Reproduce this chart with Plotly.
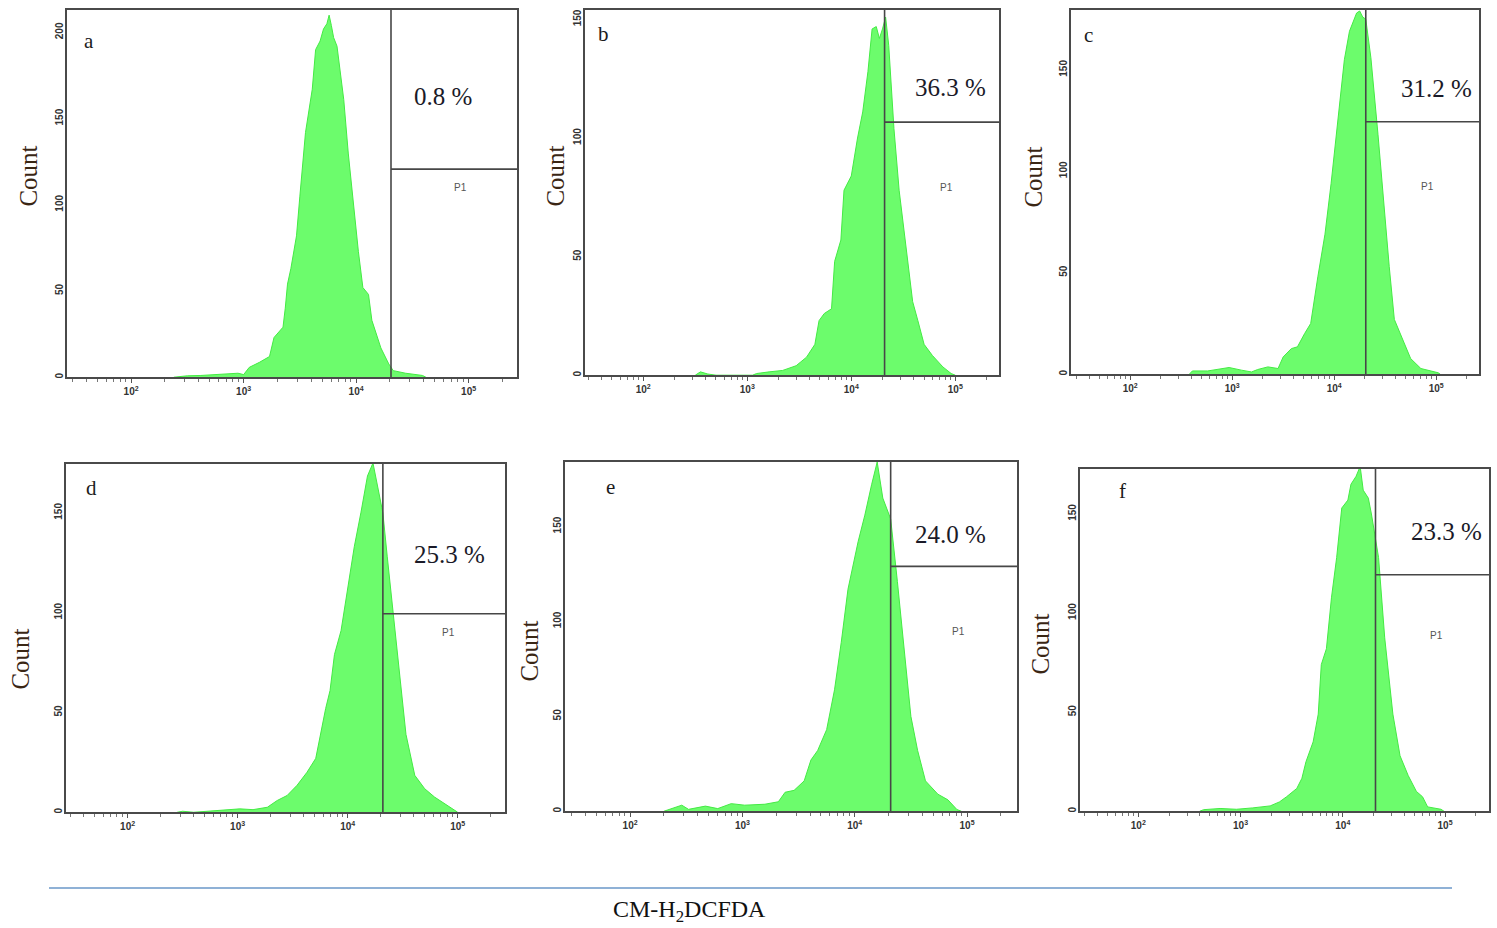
import plotly.graph_objects as go

W, H = 1497, 928

# ---------------- data ----------------
panel_labels = ["a", "b", "c", "d", "e", "f"]
percent_labels = ["0.8 %", "36.3 %", "31.2 %", "25.3 %", "24.0 %", "23.3 %"]
gate_log = [4.31, 4.32, 4.31, 4.32, 4.32, 4.32]          # log10 of gate position
gate_count = [120.7, 106.7, 124.4, 99.5, 129.0, 119.3]   # count level of horizontal gate line
y_max = [213, 154, 179.5, 174.5, 184, 172.7]
y_ticks = [[0, 50, 100, 150, 200], [0, 50, 100, 150], [0, 50, 100, 150],
           [0, 50, 100, 150], [0, 50, 100, 150], [0, 50, 100, 150]]
x_tick_vals = [1e2, 1e3, 1e4, 1e5]
x_tick_text = ["<b>10<sup>2</sup></b>", "<b>10<sup>3</sup></b>",
               "<b>10<sup>4</sup></b>", "<b>10<sup>5</sup></b>"]

a_log = [2.38, 2.50, 2.62, 2.75, 2.85, 2.95, 3.00, 3.05, 3.14, 3.23, 3.27, 3.35, 3.37, 3.39, 3.42,
         3.47, 3.50, 3.55, 3.61, 3.64, 3.68, 3.71, 3.74, 3.76, 3.78, 3.80, 3.83, 3.89, 3.93, 3.97,
         4.02, 4.06, 4.11, 4.14, 4.18, 4.22, 4.29, 4.33, 4.44, 4.59, 4.62]
a_count = [0, 0.8, 1.0, 1.5, 1.8, 2.3, 1.5, 5.7, 8.6, 12, 23, 29, 40, 54, 63,
           82, 105, 142, 167, 190, 195, 202, 205, 210, 204, 197, 192, 161, 130, 103,
           73, 52, 48, 33, 25, 17, 7.7, 3.8, 2.3, 1.0, 0]

b_log = [2.50, 2.55, 2.62, 2.70, 3.05, 3.09, 3.21, 3.34, 3.47, 3.57, 3.65, 3.69, 3.74, 3.81, 3.84,
         3.90, 3.93, 4.00, 4.06, 4.11, 4.16, 4.20, 4.24, 4.27, 4.30, 4.33, 4.36, 4.41, 4.46, 4.51,
         4.54, 4.59, 4.64, 4.70, 4.78, 4.88, 4.96, 5.00]
b_count = [0, 1.4, 0.5, 0, 0, 0.7, 1.4, 2, 4, 7.6, 13, 23, 26, 28, 48,
           57, 78, 84, 100, 111, 128, 146, 147, 142, 146, 151, 139, 104, 78, 59,
           49, 31, 23, 13, 8.3, 3.5, 0.7, 0]

c_log = [2.58, 2.61, 2.76, 2.86, 2.97, 3.09, 3.19, 3.25, 3.35, 3.45, 3.50, 3.58, 3.64, 3.71, 3.77,
         3.84, 3.91, 3.97, 4.04, 4.10, 4.15, 4.18, 4.22, 4.25, 4.28, 4.31, 4.36, 4.43, 4.49, 4.54,
         4.59, 4.67, 4.75, 4.85, 5.02, 5.04]
c_count = [0, 1.6, 1.6, 2.3, 3.3, 2.0, 1.1, 2.3, 3.6, 2.8, 8.5, 12.6, 13.5, 20, 25,
           48, 69, 94, 127, 155, 169, 173, 178, 179, 176, 175, 156, 118, 81, 53,
           27, 17, 7.7, 2.8, 0.7, 0]

d_log = [2.45, 2.50, 2.60, 2.93, 3.02, 3.14, 3.27, 3.36, 3.45, 3.54, 3.63, 3.71, 3.75, 3.80, 3.84,
         3.88, 3.94, 4.00, 4.06, 4.12, 4.18, 4.23, 4.27, 4.32, 4.36, 4.42, 4.48, 4.53, 4.61, 4.70,
         4.79, 4.88, 4.97, 5.00]
d_count = [0, 0.5, 0, 1.3, 1.7, 1.3, 2.5, 5.9, 8.4, 13.5, 20, 27, 39, 52, 61,
           79, 91, 111, 133, 150, 168.5, 175, 163, 150, 128, 96, 66, 39, 18.5, 11.8,
           7.6, 4.2, 0.8, 0]

e_log = [2.30, 2.37, 2.46, 2.52, 2.67, 2.78, 2.90, 3.02, 3.20, 3.32, 3.38, 3.46, 3.55, 3.61, 3.67,
         3.75, 3.82, 3.88, 3.94, 4.03, 4.09, 4.15, 4.20, 4.25, 4.32, 4.38, 4.44, 4.50, 4.56, 4.63,
         4.74, 4.83, 4.91, 4.95]
e_count = [0, 1.4, 3.2, 1.0, 2.7, 1.4, 4.0, 3.2, 3.7, 5.0, 10, 11, 16, 27, 32,
           43, 64, 89, 117, 142, 156, 172, 184, 165, 154, 121, 85, 50, 32, 16,
           9, 6, 0.9, 0]

f_log = [2.60, 2.64, 2.80, 2.96, 3.12, 3.29, 3.38, 3.45, 3.55, 3.60, 3.64, 3.71, 3.76, 3.79, 3.84,
         3.89, 3.94, 3.99, 4.05, 4.08, 4.13, 4.17, 4.20, 4.25, 4.28, 4.35, 4.41, 4.49, 4.56, 4.64,
         4.72, 4.78, 4.83, 4.96, 4.99]
f_count = [0, 0.8, 1.4, 1.0, 1.7, 2.7, 4.7, 7.3, 11.5, 16.6, 25, 35, 49, 74, 82,
           108, 128, 153, 157, 165, 169, 174, 162, 158, 150, 128, 87.5, 49, 28, 18,
           10, 7.3, 2.2, 1.0, 0]

hist_log = [a_log, b_log, c_log, d_log, e_log, f_log]
hist_count = [a_count, b_count, c_count, d_count, e_count, f_count]

# ---------------- layout geometry (pixels) ----------------
boxes = [(67, 517, 9, 377), (585, 999, 9, 375), (1071, 1479, 9, 374),
         (66, 505, 464, 813), (565, 1017, 462, 812), (1080, 1489, 469, 812)]
x_ranges = [[1.43, 5.43], [1.44, 5.42], [1.42, 5.42], [1.44, 5.43], [1.42, 5.445], [1.43, 5.43]]
letter_pos = [(89, 40), (603, 33), (1088, 34), (91, 488), (610, 487), (1122, 491)]
pct_pos = [(443, 96), (950, 87), (1436, 88), (449, 555), (950, 535), (1446, 532)]
p1_pos = [(460, 187), (946, 187), (1427, 186), (448, 633), (958, 632), (1436, 636)]
count_pos = [(29, 176), (556, 176), (1034, 177), (21, 660), (530, 652), (1041, 645)]


def px(x, y):
    return x / W, 1 - y / H


SERIF = "Liberation Serif"
SANS = "Liberation Sans"
GREEN_FILL = "#6cfc6c"
GREEN_LINE = "#44ea44"
FRAME = "#4a4a4a"

minor_vals = [m * 10 ** k for k in range(1, 6) for m in range(2, 10)]

fig = go.Figure()
annotations = []
layout = dict(width=W, height=H, margin=dict(l=0, r=0, t=0, b=0),
              paper_bgcolor="white", plot_bgcolor="white", showlegend=False)


def note(pos, text, font, angle=0):
    x, y = px(*pos)
    return dict(x=x, y=y, xref="paper", yref="paper", text=text, showarrow=False,
                xanchor="center", yanchor="middle", textangle=angle, font=font)


for i in range(6):
    sfx = "" if i == 0 else str(i + 1)
    xref, yref = "x" + sfx, "y" + sfx
    x0, x1, y0, y1 = boxes[i]
    xs = [10 ** v for v in hist_log[i]]
    fig.add_trace(go.Scatter(x=xs, y=hist_count[i], mode="lines", fill="tozeroy",
                             fillcolor=GREEN_FILL, line=dict(color=GREEN_LINE, width=1),
                             xaxis=xref, yaxis=yref, hoverinfo="skip"))
    g = 10 ** gate_log[i]
    xmax = 10 ** x_ranges[i][1]
    fig.add_trace(go.Scatter(x=[g, g, None, g, xmax],
                             y=[0, y_max[i], None, gate_count[i], gate_count[i]],
                             mode="lines", line=dict(color="#474747", width=1.6),
                             xaxis=xref, yaxis=yref, hoverinfo="skip"))

    layout["xaxis" + sfx] = dict(
        domain=[x0 / W, x1 / W], anchor=yref, type="log", range=x_ranges[i],
        tickmode="array", tickvals=x_tick_vals, ticktext=x_tick_text,
        ticks="outside", ticklen=4, tickwidth=1, tickcolor="#555",
        minor=dict(tickmode="array", tickvals=minor_vals, ticks="outside",
                   ticklen=3, tickwidth=1, tickcolor="#777"),
        showline=True, mirror=True, linecolor=FRAME, linewidth=1.6,
        showgrid=False, zeroline=False,
        tickfont=dict(family=SANS, size=10, color="#333"),
    )
    layout["yaxis" + sfx] = dict(
        domain=[1 - y1 / H, 1 - y0 / H], anchor=xref, range=[0, y_max[i]],
        tickmode="array", tickvals=y_ticks[i], ticktext=["<b>%d</b>" % v for v in y_ticks[i]],
        tickangle=-90,
        ticks="", showline=True, mirror=True, linecolor=FRAME, linewidth=1.6,
        showgrid=False, zeroline=False, ticklabelstandoff=-2,
        tickfont=dict(family=SANS, size=10, color="#333"),
    )

    annotations.append(note(letter_pos[i], panel_labels[i],
                            dict(family=SERIF, size=21, color="#1c1c1c")))
    annotations.append(note(pct_pos[i], percent_labels[i],
                            dict(family=SERIF, size=25, color="#1a1a28")))
    annotations.append(note(p1_pos[i], "P1", dict(family=SANS, size=10, color="#555")))
    annotations.append(note(count_pos[i], "Count",
                            dict(family=SERIF, size=25, color="#3a2614"), angle=-90))

annotations.append(note((689, 912), "CM-H<sub>2</sub>DCFDA",
                        dict(family=SERIF, size=24, color="#111")))

layout["annotations"] = annotations
layout["shapes"] = [dict(type="line", xref="paper", yref="paper",
                         x0=49 / W, x1=1452 / W, y0=1 - 889 / H, y1=1 - 889 / H,
                         line=dict(color="#8fb1d6", width=2))]
fig.update_layout(**layout)
fig.write_html("out.html")
